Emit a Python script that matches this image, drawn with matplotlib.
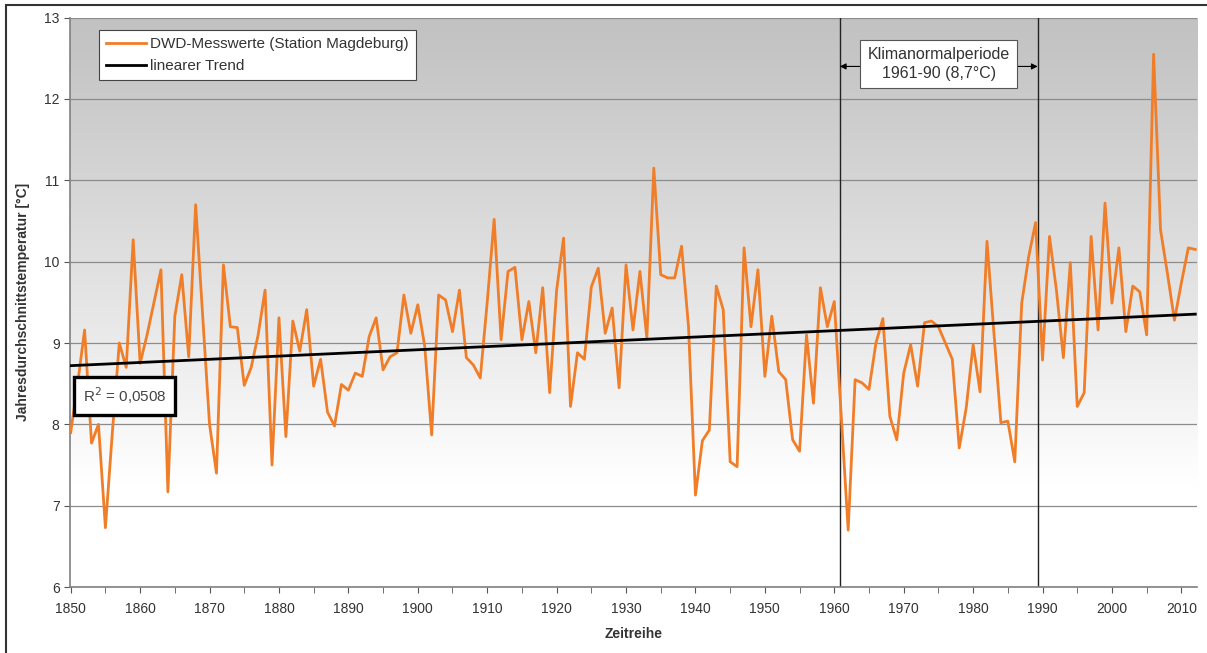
import numpy as np
import matplotlib.pyplot as plt
from matplotlib.patches import Rectangle

plt.rcParams['font.family'] = ['Liberation Sans', 'DejaVu Sans']

# Jahresmittel der Lufttemperatur, Station Magdeburg (1850-2012)
jahre = np.arange(1850, 2013)
temperatur = [
    7.90, 8.50, 9.16, 7.77, 8.00, 6.73, 7.90, 9.00, 8.70, 10.27,   # 1850-1859
    8.75, 9.10, 9.50, 9.90, 7.17, 9.33, 9.84, 8.83, 10.70, 9.35,   # 1860-1869
    8.00, 7.40, 9.96, 9.20, 9.19, 8.48, 8.70, 9.10, 9.65, 7.50,    # 1870-1879
    9.31, 7.85, 9.27, 8.90, 9.41, 8.47, 8.80, 8.15, 7.98, 8.49,    # 1880-1889
    8.42, 8.63, 8.59, 9.08, 9.31, 8.67, 8.83, 8.88, 9.59, 9.12,    # 1890-1899
    9.47, 8.96, 7.87, 9.59, 9.53, 9.14, 9.65, 8.82, 8.73, 8.57,    # 1900-1909
    9.50, 10.52, 9.04, 9.88, 9.93, 9.04, 9.51, 8.88, 9.68, 8.39,   # 1910-1919
    9.65, 10.29, 8.22, 8.88, 8.80, 9.69, 9.92, 9.12, 9.43, 8.45,   # 1920-1929
    9.96, 9.16, 9.88, 9.06, 11.15, 9.84, 9.80, 9.80, 10.19, 9.20,  # 1930-1939
    7.13, 7.80, 7.93, 9.70, 9.41, 7.54, 7.48, 10.17, 9.20, 9.90,   # 1940-1949
    8.59, 9.33, 8.65, 8.55, 7.81, 7.67, 9.10, 8.26, 9.68, 9.20,    # 1950-1959
    9.51, 8.10, 6.70, 8.55, 8.51, 8.43, 9.00, 9.30, 8.10, 7.81,    # 1960-1969
    8.63, 8.98, 8.47, 9.25, 9.27, 9.20, 9.00, 8.80, 7.71, 8.20,    # 1970-1979
    8.98, 8.40, 10.25, 9.12, 8.02, 8.04, 7.54, 9.49, 10.06, 10.48, # 1980-1989
    8.79, 10.31, 9.65, 8.82, 9.99, 8.22, 8.39, 10.31, 9.16, 10.72, # 1990-1999
    9.49, 10.17, 9.14, 9.70, 9.63, 9.10, 12.55, 10.39, 9.85, 9.28, # 2000-2009
    9.74, 10.17, 10.15,                                            # 2010-2012
]
temperatur = np.array(temperatur)

# Klimanormalperiode 1961-90
normal_grenzen = [1960.8, 1989.3]
normal_text = "Klimanormalperiode\n1961-90 (8,7°C)"
r2_text = "R$^2$ = 0,0508"

orange = '#f07d28'

fig = plt.figure(figsize=(12.07, 6.53), dpi=100)
ax = fig.add_axes([0.058, 0.101, 0.934, 0.872])

# Hintergrund: grauer Verlauf nach unten zu weiß
verlauf = np.linspace(0, 1, 256)
grau = np.clip(0.76 + 0.24 * (verlauf / 0.82) ** 1.1, 0, 1)
bild = np.dstack([grau, grau, grau])[::-1].reshape(256, 1, 3)
ax.imshow(bild, aspect='auto', extent=[0, 1, 0, 1], transform=ax.transAxes, zorder=0)

ax.set_xlim(1849.9, 2012.3)
ax.set_ylim(6, 13)
ax.set_yticks(range(6, 14))
ax.set_xticks(range(1850, 2011, 10))
ax.set_xticks(range(1855, 2013, 10), minor=True)
ax.grid(axis='y', color='#8c8c8c', linewidth=0.9, zorder=1)
ax.tick_params(axis='both', which='both', direction='out', length=4, color='#555555',
               labelsize=10, labelcolor='#333333')
ax.tick_params(axis='x', pad=7)

for s in ['top', 'right']:
    ax.spines[s].set_visible(False)
for s in ['left', 'bottom']:
    ax.spines[s].set_color('#808080')
    ax.spines[s].set_linewidth(1.2)

# Grenzen der Normalperiode
for g in normal_grenzen:
    ax.axvline(g, color='#222222', linewidth=1.0, zorder=2)

# Messwerte und linearer Trend
ax.plot(jahre, temperatur, color=orange, linewidth=2.0, zorder=3,
        label='DWD-Messwerte (Station Magdeburg)')
steigung, achse = np.polyfit(jahre, temperatur, 1)
ax.plot(jahre, steigung * jahre + achse, color='black', linewidth=2.0, zorder=4,
        label='linearer Trend')

leg = ax.legend(loc='upper left', bbox_to_anchor=(0.019, 0.991), fontsize=11,
                frameon=True, fancybox=False, framealpha=1, edgecolor='#444444',
                handlelength=2.6, handletextpad=0.3, borderpad=0.45, labelspacing=0.5)
leg.get_frame().set_linewidth(0.8)
for t in leg.get_texts():
    t.set_color('#333333')

# Beschriftung der Normalperiode mit Pfeilen zu den Grenzlinien
mitte = sum(normal_grenzen) / 2
box = ax.text(mitte, 12.43, normal_text, ha='center', va='center', fontsize=11.5,
              color='#333333', linespacing=1.35, zorder=6,
              bbox=dict(boxstyle='square,pad=0.45', facecolor='white',
                        edgecolor='#555555', linewidth=0.8))
fig.canvas.draw()
rand = box.get_bbox_patch().get_window_extent().transformed(ax.transData.inverted())
for ziel, start in [(normal_grenzen[0], rand.x0), (normal_grenzen[1], rand.x1)]:
    ax.annotate('', xy=(ziel, 12.4), xytext=(start, 12.4), zorder=5,
                arrowprops=dict(arrowstyle='-|>', color='black', linewidth=0.8,
                                mutation_scale=9, shrinkA=0, shrinkB=0))

# Bestimmtheitsmaß
ax.text(1851.7, 8.35, r2_text, ha='left', va='center', fontsize=11, color='#444444',
        zorder=7, bbox=dict(boxstyle='square,pad=0.55', facecolor='white',
                            edgecolor='black', linewidth=2.4))

ax.set_ylabel('Jahresdurchschnittstemperatur [°C]', fontsize=10, fontweight='bold',
              color='#333333', labelpad=10)
ax.set_xlabel('Zeitreihe', fontsize=10, fontweight='bold', color='#333333', labelpad=8)

# Rahmen um die Grafik
fig.patches.append(Rectangle((0.005, -0.1), 1.2, 1.092, transform=fig.transFigure,
                             fill=False, edgecolor='#333333', linewidth=1.5))

fig.savefig('out.png', dpi=100)
